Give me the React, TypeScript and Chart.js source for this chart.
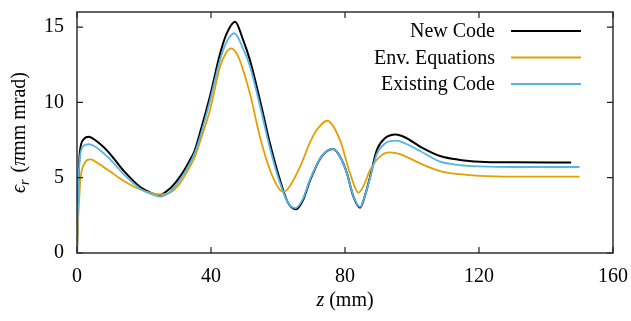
import React, { useEffect, useRef } from "react";
import { Chart, registerables } from "chart.js";

Chart.register(...registerables);

// New Code (black)
const Z_NEW = [0, 0.3, 0.6, 1, 2, 3.5, 5, 7, 9, 11, 13, 15, 17, 19, 21.8, 24.5, 27.8, 30.7, 33.7, 35.2, 36.7, 39.7, 42.7, 44.7, 47.2, 49.5, 51.6, 54.6, 57.6, 60.6, 63, 65.4, 67.5, 69.6, 73, 76.5, 78.5, 80.5, 82.5, 84.5, 86, 87.5, 89.5, 91.9, 95.2, 98, 102.4, 108.4, 114.3, 120.3, 130, 147.5];
const NEW_CODE = [0, 3.5, 5.85, 6.95, 7.55, 7.72, 7.57, 7.22, 6.8, 6.27, 5.7, 5.2, 4.75, 4.36, 4.02, 3.84, 4.29, 5.05, 6.16, 6.84, 7.97, 10.4, 13.22, 14.58, 15.36, 14.2, 12.82, 10.16, 7.27, 4.84, 3.33, 2.9, 3.53, 4.84, 6.4, 6.9, 6.4, 5.35, 3.75, 3.01, 3.84, 5.07, 6.84, 7.62, 7.87, 7.67, 7.07, 6.44, 6.18, 6.06, 6.02, 6.01];

// Existing Code (blue)
const Z_EXIST = [0, 0.3, 0.6, 1, 2, 3.5, 5, 7, 9, 11, 13, 15, 17, 19, 21.8, 24.8, 27.8, 30.7, 33.7, 35.2, 36.7, 39.7, 42.7, 44.7, 47, 49.5, 51.6, 54.6, 57.6, 60.6, 63, 65.2, 67.5, 69.6, 73, 76.5, 78.5, 80.5, 82.5, 84.5, 86, 87.5, 89.5, 91.9, 95.2, 98, 102.4, 108.4, 114.3, 120.3, 130, 150];
const EXISTING_CODE = [0, 3.33, 5.55, 6.56, 7.12, 7.22, 7.12, 6.81, 6.41, 5.95, 5.45, 5.0, 4.6, 4.25, 3.94, 3.75, 4.07, 4.84, 5.95, 6.66, 7.67, 10.1, 12.82, 14.03, 14.59, 13.6, 12.41, 9.79, 6.96, 4.64, 3.33, 2.98, 3.63, 4.9, 6.41, 6.91, 6.41, 5.35, 3.79, 3.06, 3.84, 5.0, 6.56, 7.27, 7.46, 7.27, 6.77, 6.06, 5.84, 5.75, 5.71, 5.71];

// Env. Equations (orange)
const Z_ENV = [0, 0.3, 0.6, 1, 2, 4, 6, 8, 10, 12.5, 15, 17.5, 20, 22.5, 25, 27.8, 30.7, 33.7, 35.2, 36.7, 39.7, 42.7, 44.5, 46, 48, 51.6, 54.6, 57.6, 60.6, 61.8, 63.3, 66.6, 69.6, 71.6, 74.7, 78.5, 81.5, 84, 85.5, 87.5, 90.4, 93.4, 96.4, 102.4, 108.4, 114.3, 120.3, 130, 150];
const ENV_EQUATIONS = [0, 2.02, 3.33, 4.84, 5.85, 6.21, 6.0, 5.7, 5.4, 5.0, 4.65, 4.35, 4.12, 3.95, 3.89, 4.01, 4.62, 5.73, 6.4, 7.37, 9.49, 12.36, 13.3, 13.59, 13.1, 10.6, 7.72, 5.51, 4.18, 4.07, 4.36, 5.73, 7.37, 8.18, 8.78, 7.5, 5.29, 4.01, 4.44, 5.51, 6.4, 6.68, 6.57, 5.95, 5.44, 5.23, 5.12, 5.07, 5.07];

const X_TICKS = [0, 40, 80, 120, 160];
const Y_TICKS = [0, 5, 10, 15];
const LEGEND_LABELS = ["New Code", "Env. Equations", "Existing Code"];
const COLORS = ["#000000", "#E69F00", "#56B4E9"];

const SERIF = "'Liberation Serif', 'DejaVu Serif', serif";

const toPts = (xs: number[], ys: number[]) => xs.map((x, i) => ({ x, y: ys[i] }));

const decorPlugin = {
  id: "decor",
  afterDraw(chart: any) {
    const ctx = chart.ctx;
    const { left, right, top, bottom } = chart.chartArea;
    const xs = chart.scales.x;
    const ys = chart.scales.y;
    ctx.save();
    ctx.strokeStyle = "#222";
    ctx.lineWidth = 1.4;
    ctx.strokeRect(left, top, right - left, bottom - top);
    const tl = 6;
    ctx.beginPath();
    X_TICKS.forEach((v) => {
      const px = xs.getPixelForValue(v);
      ctx.moveTo(px, bottom);
      ctx.lineTo(px, bottom - tl);
      ctx.moveTo(px, top);
      ctx.lineTo(px, top + tl);
    });
    Y_TICKS.forEach((v) => {
      const py = ys.getPixelForValue(v);
      ctx.moveTo(left, py);
      ctx.lineTo(left + tl, py);
      ctx.moveTo(right, py);
      ctx.lineTo(right - tl, py);
    });
    ctx.lineWidth = 1.2;
    ctx.stroke();

    // legend
    ctx.textAlign = "right";
    ctx.textBaseline = "alphabetic";
    ctx.font = `20px ${SERIF}`;
    const baselines = [37, 63.5, 90];
    const lineYs = [31, 57.5, 84];
    LEGEND_LABELS.forEach((lab, i) => {
      ctx.fillStyle = "#000";
      ctx.fillText(lab, 495, baselines[i]);
      ctx.beginPath();
      ctx.strokeStyle = COLORS[i];
      ctx.lineWidth = i === 0 ? 2 : 1.8;
      ctx.moveTo(511, lineYs[i]);
      ctx.lineTo(581, lineYs[i]);
      ctx.stroke();
    });

    // x title
    ctx.fillStyle = "#000";
    ctx.textAlign = "left";
    ctx.textBaseline = "alphabetic";
    const italic = `italic 20px ${SERIF}`;
    const regular = `20px ${SERIF}`;
    ctx.font = italic;
    const wz = ctx.measureText("z").width;
    ctx.font = regular;
    const wr = ctx.measureText(" (mm)").width;
    const cx = (left + right) / 2;
    const x0 = cx - (wz + wr) / 2;
    const by = 306;
    ctx.font = italic;
    ctx.fillText("z", x0, by);
    ctx.font = regular;
    ctx.fillText(" (mm)", x0 + wz, by);

    // y title
    ctx.save();
    const cy = (top + bottom) / 2;
    ctx.translate(25, cy);
    ctx.rotate(-Math.PI / 2);
    const sub = `italic 14px ${SERIF}`;
    ctx.font = italic;
    const we = ctx.measureText("\u03F5").width;
    ctx.font = sub;
    const ws = ctx.measureText("r").width;
    ctx.font = regular;
    const wa = ctx.measureText(" (").width;
    ctx.font = italic;
    const wp = ctx.measureText("\u03C0").width;
    ctx.font = regular;
    const wb = ctx.measureText("mm mrad)").width;
    const total = we + ws + 2 + wa + wp + wb;
    let x = -total / 2;
    ctx.font = italic;
    ctx.fillText("\u03F5", x, 0);
    x += we;
    ctx.font = sub;
    ctx.fillText("r", x, 4);
    x += ws + 2;
    ctx.font = regular;
    ctx.fillText(" (", x, 0);
    x += wa;
    ctx.font = italic;
    ctx.fillText("\u03C0", x, 0);
    x += wp;
    ctx.font = regular;
    ctx.fillText("mm mrad)", x, 0);
    ctx.restore();

    ctx.restore();
  },
};

export default function App() {
  const ref = useRef<HTMLCanvasElement | null>(null);
  useEffect(() => {
    if (!ref.current) return;
    const chart = new Chart(ref.current, {
      type: "line",
      data: {
        datasets: [
          { label: LEGEND_LABELS[0], data: toPts(Z_NEW, NEW_CODE), borderColor: COLORS[0], borderWidth: 2, order: 2 },
          { label: LEGEND_LABELS[1], data: toPts(Z_ENV, ENV_EQUATIONS), borderColor: COLORS[1], borderWidth: 1.8, order: 1 },
          { label: LEGEND_LABELS[2], data: toPts(Z_EXIST, EXISTING_CODE), borderColor: COLORS[2], borderWidth: 1.8, order: 0 },
        ],
      },
      options: {
        animation: false,
        responsive: true,
        maintainAspectRatio: false,
        parsing: false as any,
        elements: {
          point: { radius: 0 },
          line: { cubicInterpolationMode: "monotone", fill: false },
        },
        layout: { padding: { top: 12, right: 18, left: 0, bottom: 0 } },
        plugins: { legend: { display: false }, tooltip: { enabled: false } },
        scales: {
          x: {
            type: "linear",
            min: 0,
            max: 160,
            grid: { display: false, drawTicks: false },
            border: { display: false },
            afterBuildTicks: (s: any) => {
              s.ticks = X_TICKS.map((v) => ({ value: v }));
            },
            afterFit: (s: any) => {
              s.height = 68;
              s.paddingLeft = 0;
              s.paddingRight = 0;
              s.paddingTop = 0;
              s.paddingBottom = 0;
            },
            ticks: { padding: 12, color: "#000", font: { family: SERIF, size: 20 }, maxRotation: 0 },
          },
          y: {
            type: "linear",
            min: 0,
            max: 16,
            grid: { display: false, drawTicks: false },
            border: { display: false },
            afterBuildTicks: (s: any) => {
              s.ticks = Y_TICKS.map((v) => ({ value: v }));
            },
            afterFit: (s: any) => {
              s.width = 77;
              s.paddingLeft = 0;
              s.paddingRight = 0;
              s.paddingTop = 0;
              s.paddingBottom = 0;
            },
            ticks: { padding: 13, color: "#000", font: { family: SERIF, size: 20 } },
          },
        },
      },
      plugins: [decorPlugin],
    });
    return () => chart.destroy();
  }, []);
  return (
    <div style={{ position: "absolute", left: 0, top: 0, width: 631, height: 321, background: "#fff" }}>
      <canvas ref={ref} />
    </div>
  );
}
